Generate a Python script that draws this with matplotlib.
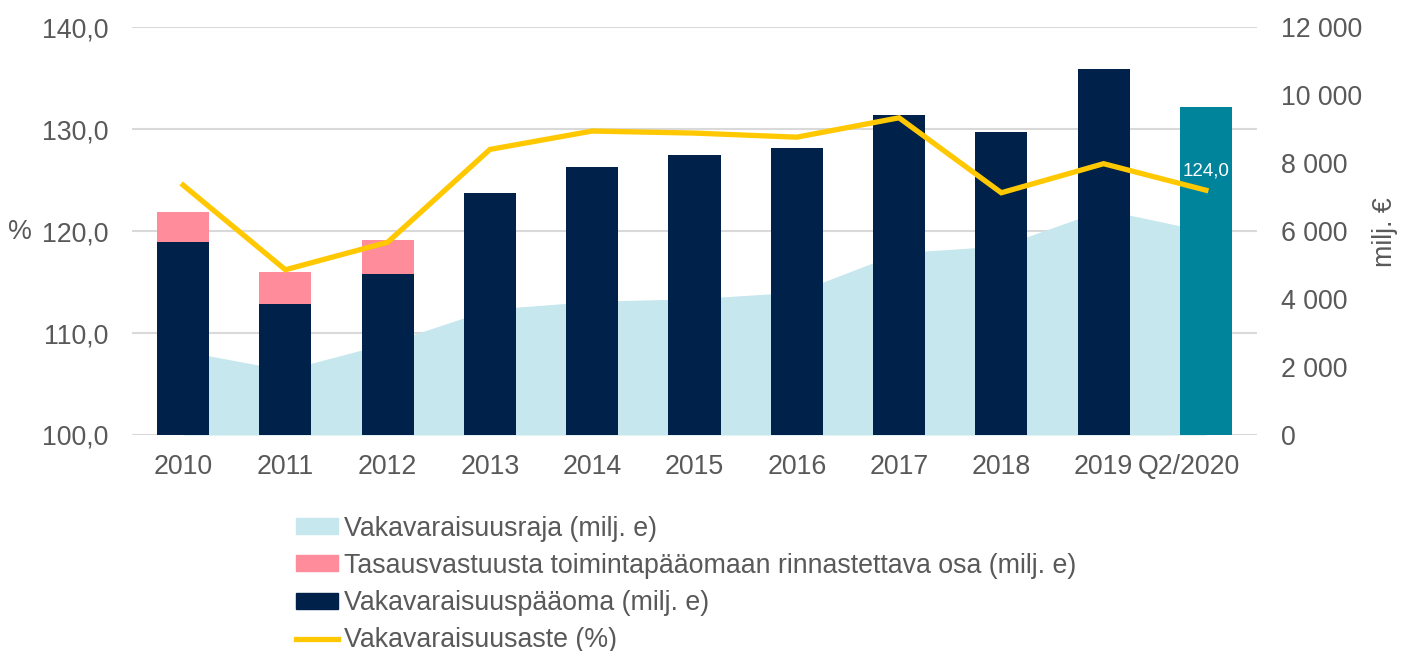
import matplotlib
matplotlib.use("Agg")
import matplotlib.pyplot as plt
from matplotlib.patches import Patch
from matplotlib.lines import Line2D
from matplotlib.transforms import ScaledTranslation
import numpy as np

plt.rcParams['font.family'] = ['Liberation Sans', 'DejaVu Sans']

# data
categories = ['2010', '2011', '2012', '2013', '2014', '2015', '2016',
              '2017', '2018', '2019', 'Q2/2020']
raja = [2470, 1910, 2700, 3700, 3930, 4010, 4200, 5360, 5560, 6630, 5990]
paaoma = [5670, 3860, 4730, 7110, 7890, 8240, 8430, 9400, 8900, 10760, 9650]
tasaus = [890, 940, 1010, 0, 0, 0, 0, 0, 0, 0, 0]
aste = [124.5, 116.2, 118.9, 128.0, 129.8, 129.6, 129.2, 131.1, 123.75, 126.6, 124.0]

navy = '#002149'
pink = '#FF8C9B'
light = '#C5E7ED'
teal = '#00849C'
yellow = '#FFC800'
grey = '#595959'
fs = 19.3

x = np.arange(len(categories))
bar_colors = [navy] * (len(categories) - 1) + [teal]

fig = plt.figure(figsize=(14.13, 6.51), dpi=100)
ax = fig.add_axes([0.0934, 0.3318, 0.7962, 0.6267])
ax2 = ax.twinx()

# money axis (drawn underneath), ticks on the right
ax.yaxis.tick_right()
ax.yaxis.set_label_position('right')
ax.fill_between(x, raja, color=light, lw=0, zorder=1)
ax.bar(x, paaoma, width=0.51, color=bar_colors, zorder=2)
ax.bar(x, tasaus, width=0.51, bottom=paaoma, color=pink, zorder=2)
ax.set_ylim(0, 12000)
ax.set_yticks(np.arange(0, 12001, 2000))
ax.set_yticklabels([f'{v:,}'.replace(',', ' ') for v in range(0, 12001, 2000)])
# gridlines follow the percent axis (every 10 %), i.e. every 3000 here
ax.yaxis.remove_overlapping_locs = False
ax.set_yticks(np.arange(0, 12001, 3000), minor=True)
ax.grid(True, which='minor', axis='y', color='#D9D9D9', lw=1.5, zorder=0)
ax.grid(False, which='major')
ax.set_axisbelow(True)
ax.tick_params(axis='y', which='both', length=0, pad=17, labelsize=fs, labelcolor=grey)
ax.set_ylabel('milj. €', fontsize=fs, color=grey, ha='center', va='center')
ax.yaxis.set_label_coords(1.1138, 0.497)

# percent axis on top, ticks on the left
ax2.yaxis.tick_left()
ax2.yaxis.set_label_position('left')
ax2.plot(x, aste, color=yellow, lw=3.8, solid_joinstyle='miter', zorder=5)
ax2.annotate('124,0', (x[-1], aste[-1]), xytext=(0, 14), textcoords='offset points',
             ha='center', va='center', color='white', fontsize=13.5)
ax2.set_ylim(100, 140)
ax2.set_yticks(np.arange(100, 141, 10))
ax2.set_yticklabels([f'{v:.1f}'.replace('.', ',') for v in range(100, 141, 10)])
ax2.tick_params(axis='y', length=0, pad=17, labelsize=fs, labelcolor=grey)
ax2.set_ylabel('%', rotation=0, fontsize=fs, color=grey, va='center', ha='center')
ax2.yaxis.set_label_coords(-0.1, 0.4975)

ax.set_xlim(-0.5, len(categories) - 0.5)
ax.set_xticks(x)
ax.set_xticklabels(categories)
ax.tick_params(axis='x', length=0, pad=14, labelsize=fs, labelcolor=grey)
last = ax.get_xticklabels()[-1]
last.set_transform(last.get_transform() + ScaledTranslation(-0.17, 0, fig.dpi_scale_trans))
for a in (ax, ax2):
    for s in a.spines.values():
        s.set_visible(False)

handles = [Patch(color=light), Patch(color=pink), Patch(color=navy),
           Line2D([], [], color=yellow, lw=3.8)]
labels = ['Vakavaraisuusraja (milj. e)',
          'Tasausvastuusta toimintapääomaan rinnastettava osa (milj. e)',
          'Vakavaraisuuspääoma (milj. e)',
          'Vakavaraisuusaste (%)']
leg = fig.legend(handles, labels, loc='upper left', bbox_to_anchor=(0.2095, 0.208),
                 frameon=False, fontsize=fs, handlelength=1.55, handleheight=0.55,
                 handletextpad=0.25, labelspacing=0.42, borderaxespad=0, borderpad=0)
for t in leg.get_texts():
    t.set_color(grey)

fig.savefig('out.png', dpi=100)
